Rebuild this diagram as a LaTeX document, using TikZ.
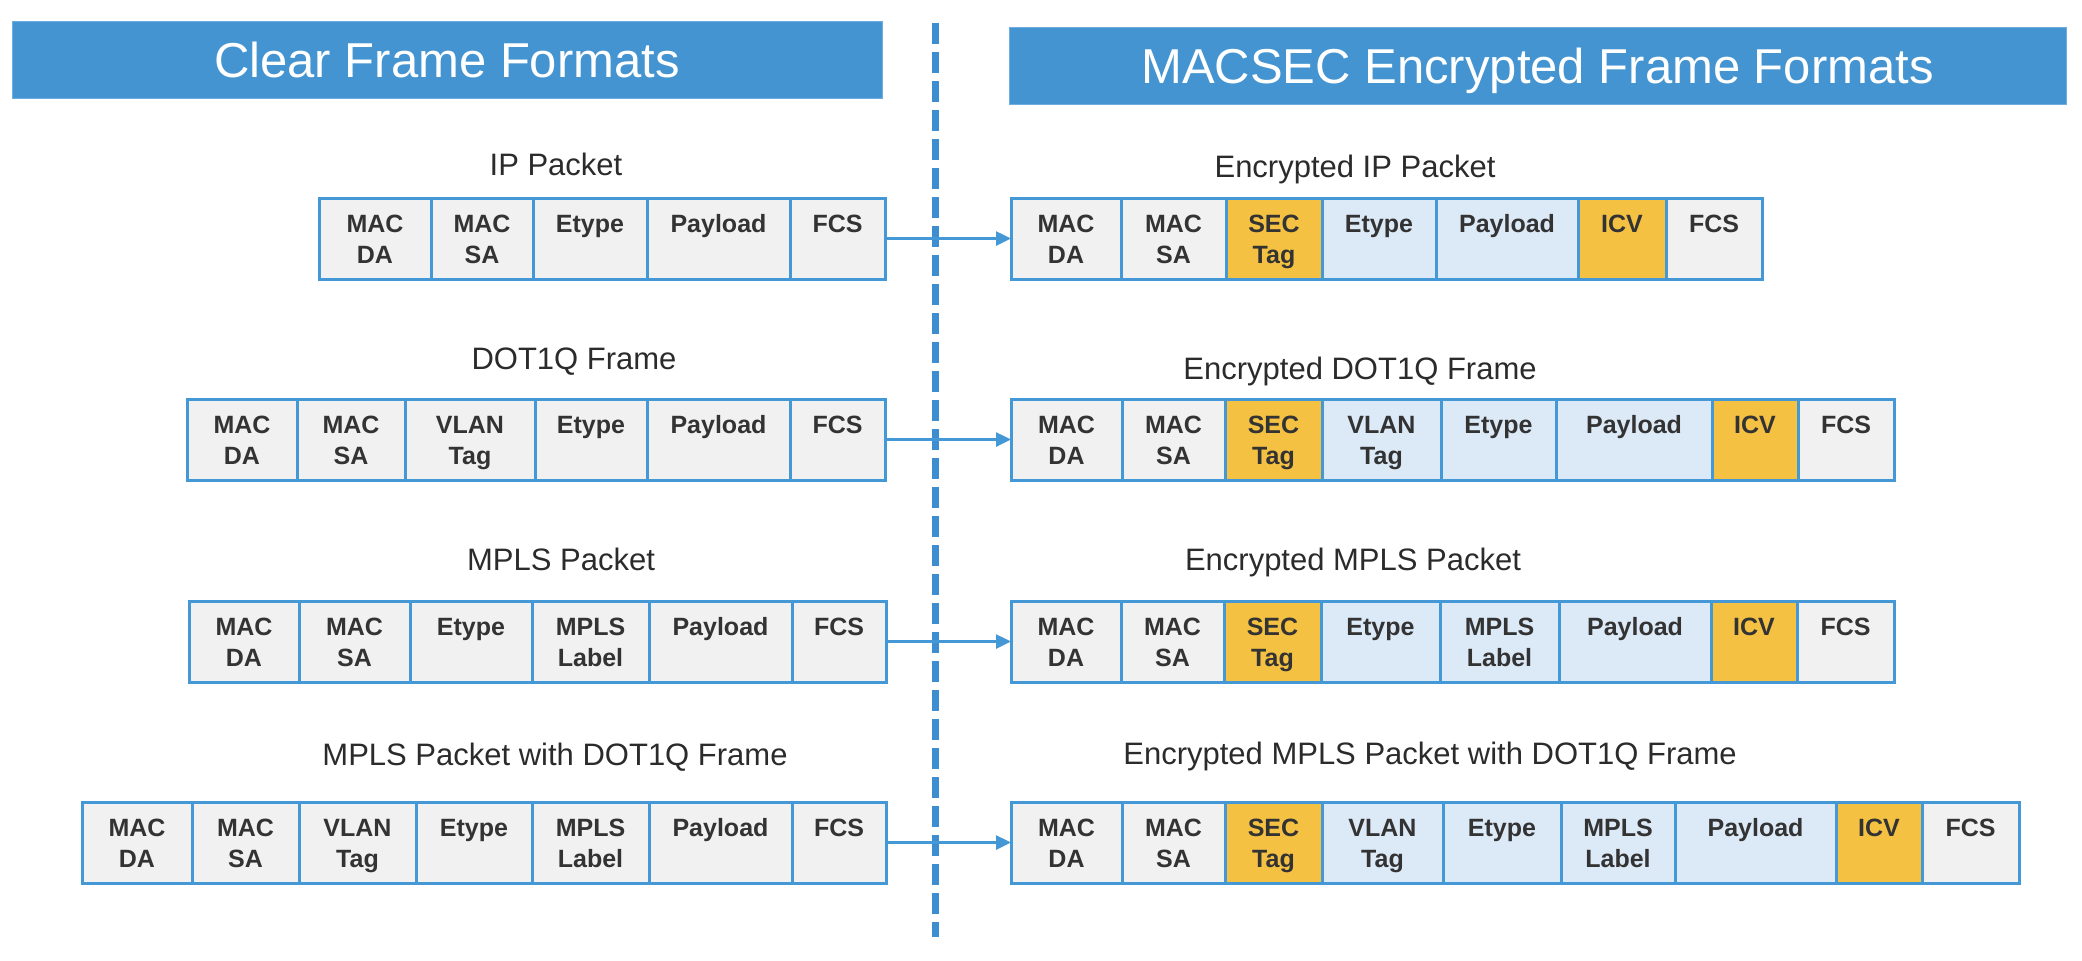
\documentclass[tikz,border=0pt]{standalone}
\usepackage{fontspec}
\setmainfont{Liberation Sans}
\usetikzlibrary{arrows.meta}
\definecolor{hdrblue}{RGB}{67,148,208}
\definecolor{hdredge}{RGB}{110,174,224}
\definecolor{lineblue}{RGB}{68,152,214}
\definecolor{dashblue}{RGB}{61,142,208}
\definecolor{cgray}{HTML}{F1F1F1}
\definecolor{corange}{HTML}{F4C142}
\definecolor{cblue}{HTML}{DCE9F7}
\definecolor{txtgray}{HTML}{333333}
\definecolor{lblgray}{HTML}{2B2B2B}
\tikzset{
  cellbox/.style={draw=lineblue, line width=1.5pt, rectangle, inner sep=0pt, outer sep=0pt, minimum height=40.5pt},
  celltext/.style={anchor=base, inner sep=0pt, text=txtgray, font=\bfseries\fontsize{12.5}{15.5}\selectfont},
  header/.style={fill=hdrblue, draw=hdredge, line width=0.5pt, text=white, font=\fontsize{24.5}{29}\selectfont, minimum height=38.5pt, inner sep=0pt, text height=17.5pt, text depth=0pt},
  framelabel/.style={anchor=base, inner sep=0pt, text=lblgray, font=\fontsize{15.5}{18}\selectfont},
  arr/.style={draw=lineblue, line width=1.25pt, -{Triangle[length=7.5pt,width=7pt]}},
  divider/.style={draw=dashblue, line width=3.5pt, dash pattern=on 10.5pt off 4pt},
}
\newcommand\framerow[3]{%
  \foreach \xa/\xb/\fc/\tx [count=\i] in {#3}{%
    \pgfmathsetmacro\cx{(\xa+\xb)/2}%
    \pgfmathsetmacro\cw{(\xb-\xa)*0.5}%
    \node[cellbox, fill=\fc, minimum width=\cw pt] (#1c\i) at (\cx,#2+40.5) {};
    \node[celltext] (#1t\i) at ([yshift=-17pt]#1c\i.north) {\begin{tabular}[t]{@{}c@{}}\tx\end{tabular}};
  }%
}
\begin{document}
\begin{tikzpicture}[x=0.5pt,y=-0.5pt]
\useasboundingbox (0,0) rectangle (2082,960);

% headers
\node[header, minimum width=435pt] (hleft) at (447,59.5) {Clear Frame Formats};
\node[header, minimum width=528.5pt] (hright) at (1537.5,65.5) {MACSEC Encrypted Frame Formats};

% divider
\coordinate (dtop) at (935,23);
\coordinate (dbot) at (935,937);
\draw[divider] (dtop) -- (dbot);

% labels
\node[framelabel] (l1) at (556,175) {IP Packet};
\node[framelabel] (r1) at (1355,177) {Encrypted IP Packet};
\node[framelabel] (l2) at (574,369) {DOT1Q Frame};
\node[framelabel] (r2) at (1360,379) {Encrypted DOT1Q Frame};
\node[framelabel] (l3) at (561,570) {MPLS Packet};
\node[framelabel] (r3) at (1353,570) {Encrypted MPLS Packet};
\node[framelabel] (l4) at (555,765) {MPLS Packet with DOT1Q Frame};
\node[framelabel] (r4) at (1430,764) {Encrypted MPLS Packet with DOT1Q Frame};

% clear frames
\framerow{L1}{198}{319/431/cgray/MAC\\DA, 431/533/cgray/MAC\\SA, 533/647/cgray/Etype, 647/790/cgray/Payload, 790/885/cgray/FCS}
\framerow{L2}{399}{187/297/cgray/MAC\\DA, 297/405/cgray/MAC\\SA, 405/535/cgray/VLAN\\Tag, 535/647/cgray/Etype, 647/790/cgray/Payload, 790/885/cgray/FCS}
\framerow{L3}{601}{189/299/cgray/MAC\\DA, 299/410/cgray/MAC\\SA, 410/532/cgray/Etype, 532/649/cgray/MPLS\\Label, 649/792/cgray/Payload, 792/886/cgray/FCS}
\framerow{L4}{802}{82/192/cgray/MAC\\DA, 192/299/cgray/MAC\\SA, 299/416/cgray/VLAN\\Tag, 416/532/cgray/Etype, 532/649/cgray/MPLS\\Label, 649/792/cgray/Payload, 792/886/cgray/FCS}

% encrypted frames
\framerow{R1}{198}{1011/1121/cgray/MAC\\DA, 1121/1226/cgray/MAC\\SA, 1226/1322/corange/SEC\\Tag, 1322/1436/cblue/Etype, 1436/1578/cblue/Payload, 1578/1666/corange/ICV, 1666/1762/cgray/FCS}
\framerow{R2}{399}{1011/1122/cgray/MAC\\DA, 1122/1225/cgray/MAC\\SA, 1225/1322/corange/SEC\\Tag, 1322/1441/cblue/VLAN\\Tag, 1441/1556/cblue/Etype, 1556/1712/cblue/Payload, 1712/1798/corange/ICV, 1798/1894/cgray/FCS}
\framerow{R3}{601}{1011/1121/cgray/MAC\\DA, 1121/1224/cgray/MAC\\SA, 1224/1321/corange/SEC\\Tag, 1321/1440/cblue/Etype, 1440/1559/cblue/MPLS\\Label, 1559/1711/cblue/Payload, 1711/1797/corange/ICV, 1797/1894/cgray/FCS}
\framerow{R4}{802}{1011/1122/cgray/MAC\\DA, 1122/1225/cgray/MAC\\SA, 1225/1322/corange/SEC\\Tag, 1322/1443/cblue/VLAN\\Tag, 1443/1561/cblue/Etype, 1561/1675/cblue/MPLS\\Label, 1675/1836/cblue/Payload, 1836/1922/corange/ICV, 1922/2019/cgray/FCS}

% connectors
\draw[arr] (L1c5.east) -- (R1c1.west);
\draw[arr] (L2c6.east) -- (R2c1.west);
\draw[arr] (L3c6.east) -- (R3c1.west);
\draw[arr] (L4c7.east) -- (R4c1.west);
\end{tikzpicture}
\end{document}
